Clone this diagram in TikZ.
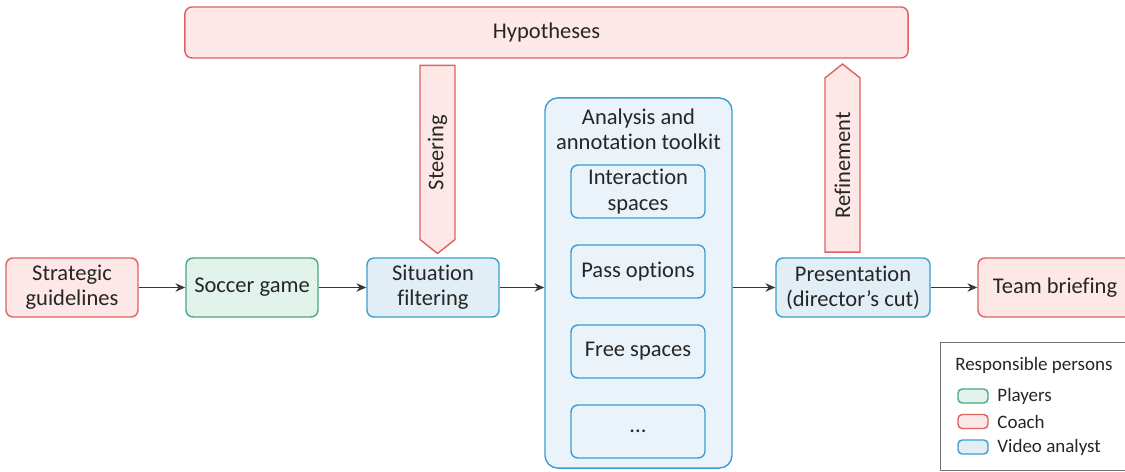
\documentclass[tikz,border=0pt]{standalone}
\usepackage{fontspec}
\setmainfont{Carlito}[Ligatures=NoCommon]
\usetikzlibrary{shapes.arrows,positioning,arrows.meta}

\definecolor{coachline}{RGB}{222,98,96}
\definecolor{coachfill}{RGB}{253,232,231}
\definecolor{playerline}{RGB}{72,168,128}
\definecolor{playerfill}{RGB}{226,243,235}
\definecolor{analystline}{RGB}{58,158,210}
\definecolor{analystfill}{RGB}{226,238,246}
\definecolor{kitfill}{RGB}{234,243,249}
\definecolor{arrowgray}{RGB}{55,55,55}

\tikzset{
  box/.style={draw, rounded corners=5pt, line width=1pt, align=center,
    inner sep=1pt, font=\fontsize{16}{18}\selectfont, text=black!85},
  stagebox/.style={box, minimum width=3.3cm, minimum height=1.475cm},
  toolbox/.style={box, draw=analystline, fill=kitfill, minimum width=3.35cm, minimum height=1.325cm},
  coach/.style={draw=coachline, fill=coachfill},
  players/.style={draw=playerline, fill=playerfill},
  analyst/.style={draw=analystline, fill=analystfill},
  flow/.style={draw=arrowgray, line width=0.9pt, -{Stealth[length=7pt,width=6pt]}},
  blockarrow/.style={single arrow, single arrow head extend=0pt, single arrow tip angle=103,
    draw=coachline, fill=coachfill, line width=1pt, minimum height=4.7cm, minimum width=0.875cm,
    inner sep=0pt, rotate=90, font=\fontsize{16}{18}\selectfont, text=black!85},
  legitem/.style={draw, rounded corners=3pt, line width=1pt, minimum width=0.75cm, minimum height=0.35cm, inner sep=0pt},
  legtext/.style={font=\fontsize{13.5}{15}\selectfont, text=black!85, inner sep=0pt, anchor=west}
}

\begin{document}
\begin{tikzpicture}[x=0.025cm, y=-0.025cm]
  \clip (0,0) rectangle (1125,472);
  \useasboundingbox (0,0) rectangle (1125,472);

  % hypotheses on top
  \node[box, coach, minimum width=18.075cm, minimum height=1.275cm] (hyp) at (546.5,32.5) {Hypotheses};

  % block arrows to and from the hypotheses
  \node[blockarrow, shape border rotate=180] (steer) at (437.5,152.5) {Steering};
  \node[blockarrow] (refine) at (842.5,165) {Refinement};

  % main chain
  \node[stagebox, coach] (strat) at (72,287.5) {Strategic\\guidelines};
  \node[stagebox, players] (soccer) at (252,287.5) {Soccer game};
  \node[stagebox, analyst] (filter) at (433,287.5) {Situation\\filtering};
  \node[stagebox, analyst, minimum width=3.85cm] (pres) at (853,287.5) {Presentation\\(director's cut)};
  \node[stagebox, coach, minimum width=3.85cm] (brief) at (1055,287.5) {Team briefing};

  % toolkit
  \node[box, analyst, fill=kitfill, rounded corners=9pt, minimum width=4.675cm, minimum height=9.25cm] (kit) at (638.5,283) {};
  \node[align=center, font=\fontsize{16}{18}\selectfont, text=black!85] (kittitle) at (638.5,129) {Analysis and\\annotation toolkit};
  \node[toolbox] (inter) at (638,191.5) {Interaction\\spaces};
  \node[toolbox] (pass) at (638,271.5) {Pass options};
  \node[toolbox] (free) at (638,351.5) {Free spaces};
  \node[toolbox] (more) at (638,431.5) {...};

  \draw[flow] (strat) -- (soccer);
  \draw[flow] (soccer) -- (filter);
  \draw[flow] (filter.east) -- (filter.east -| kit.west);
  \draw[flow] (pres.west -| kit.east) -- (pres.west);
  \draw[flow] (pres) -- (brief);

  % legend
  \node[draw=black!55, line width=0.6pt, minimum width=4.9cm, minimum height=3.2cm, anchor=north west, inner sep=0pt] (legend) at (940,342) {};
  \node[legtext] (legtitle) at (955,365) {Responsible persons};
  \node[legitem, players] (legplayers) at (973,396) {};
  \node[legitem, coach] (legcoach) at (973,421.5) {};
  \node[legitem, analyst] (leganalyst) at (973,447) {};
  \node[legtext, right=6pt of legplayers] (legplayerstext) {Players};
  \node[legtext, right=6pt of legcoach] (legcoachtext) {Coach};
  \node[legtext, right=6pt of leganalyst] (leganalysttext) {Video analyst};
\end{tikzpicture}
\end{document}
